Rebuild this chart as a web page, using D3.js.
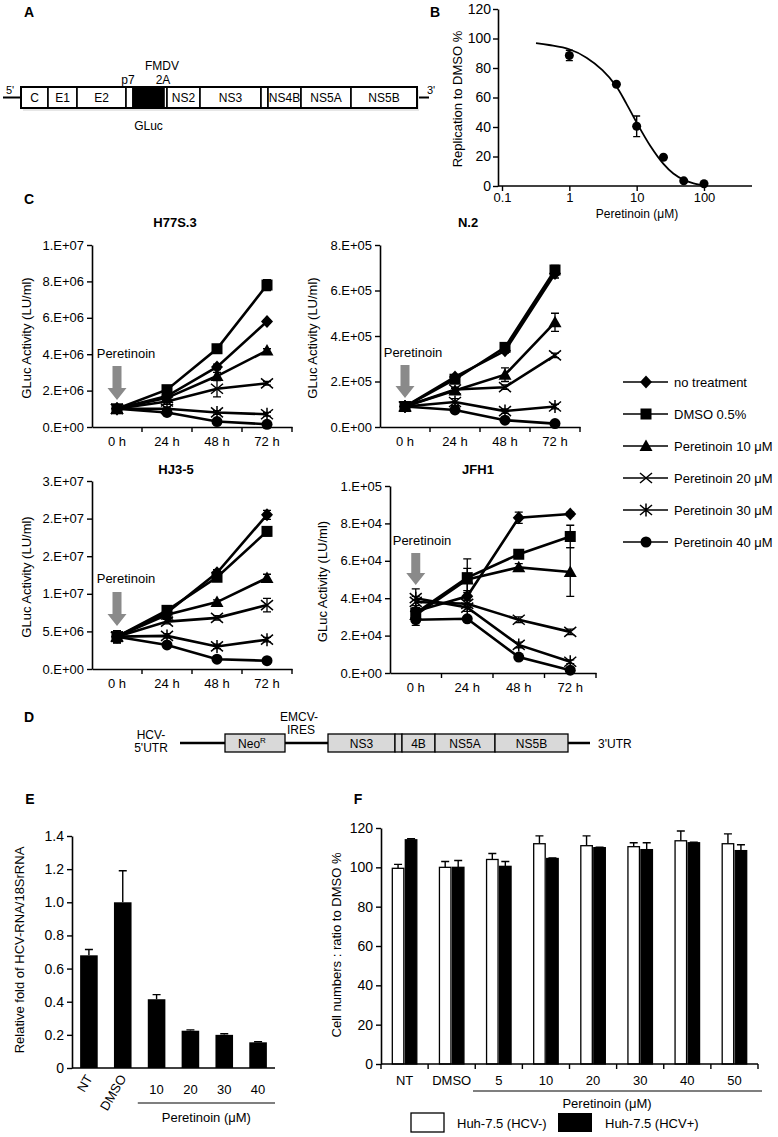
<!DOCTYPE html>
<html><head><meta charset="utf-8">
<script src="https://cdn.jsdelivr.net/npm/d3@7"></script>
<style>
body{margin:0;background:#fff}
text{font-family:"Liberation Sans",Arial,Helvetica,sans-serif;fill:#000}
</style>
</head><body>
<svg id="fig" width="778" height="1137" xmlns="http://www.w3.org/2000/svg"></svg>
<script>
// ---------------- DATA ----------------
// Panel A genome map
const aSegNames = ["C","E1","E2","","GLuc","","NS2","NS3","","NS4B","NS5A","NS5B"];
const aSegUnits = [27,29,49,7,31,3,33,61,7,33,50,66];   // relative segment lengths
// Panel B dose response
const bDose = [1, 5, 10, 25, 50, 100];
const bRepl = [88.5, 69, 40.5, 19.5, 3.5, 1.5];
const bErr  = [3.5, 1, 7, 1, 1, 0.5];
const bFitDose = [0.32, 0.5, 1, 1.8, 3.1, 5, 7, 10, 15.8, 25, 35, 50, 70, 100];
const bFitRepl = [96.9, 95.6, 92.7, 87, 78.5, 67.5, 56, 43, 27.5, 15, 8.5, 4.2, 1.8, 0.4];
const bYTicks = [0, 20, 40, 60, 80, 100, 120];
const bXTicks = [0.1, 1, 10, 100];
const bXTickLabels = ["0.1", "1", "10", "100"];

// Panel C time courses
const cTimes = ["0 h", "24 h", "48 h", "72 h"];
const cSeries = ["no treatment", "DMSO 0.5%", "Peretinoin 10 μM", "Peretinoin 20 μM", "Peretinoin 30 μM", "Peretinoin 40 μM"];

const h77Ticks = [0, 2e6, 4e6, 6e6, 8e6, 1e7];
const h77TickLabels = ["0.E+00", "2.E+06", "4.E+06", "6.E+06", "8.E+06", "1.E+07"];
const h77Values = [
  [1.0e6, 1.7e6, 3.3e6, 5.8e6],
  [1.0e6, 2.05e6, 4.3e6, 7.8e6],
  [1.0e6, 1.6e6, 2.8e6, 4.2e6],
  [1.0e6, 1.4e6, 2.1e6, 2.4e6],
  [1.0e6, 1.0e6, 0.8e6, 0.7e6],
  [1.0e6, 0.8e6, 0.3e6, 0.15e6]
];
const h77Errors = [
  [0.05e6, 0.1e6, 0.15e6, 0.1e6],
  [0.05e6, 0.1e6, 0.1e6, 0.3e6],
  [0.05e6, 0.1e6, 0.2e6, 0.1e6],
  [0.05e6, 0.15e6, 0.45e6, 0.1e6],
  [0.05e6, 0.1e6, 0.1e6, 0.1e6],
  [0.05e6, 0.05e6, 0.05e6, 0.05e6]
];

const n2Ticks = [0, 2e5, 4e5, 6e5, 8e5];
const n2TickLabels = ["0.E+00", "2.E+05", "4.E+05", "6.E+05", "8.E+05"];
const n2Values = [
  [0.9e5, 2.2e5, 3.35e5, 6.75e5],
  [0.9e5, 2.1e5, 3.5e5, 6.9e5],
  [0.9e5, 1.6e5, 2.3e5, 4.6e5],
  [0.9e5, 1.65e5, 1.75e5, 3.15e5],
  [0.9e5, 1.1e5, 0.7e5, 0.9e5],
  [0.9e5, 0.75e5, 0.3e5, 0.15e5]
];
const n2Errors = [
  [0.05e5, 0.1e5, 0.1e5, 0.2e5],
  [0.05e5, 0.1e5, 0.1e5, 0.2e5],
  [0.05e5, 0.1e5, 0.3e5, 0.4e5],
  [0.05e5, 0.1e5, 0.1e5, 0.1e5],
  [0.05e5, 0.15e5, 0.1e5, 0.1e5],
  [0.05e5, 0.05e5, 0.05e5, 0.05e5]
];

const hj3Ticks = [0, 5e6, 1e7, 1.5e7, 2e7, 2.5e7];
const hj3TickLabels = ["0.E+00", "5.E+06", "1.E+07", "2.E+07", "2.E+07", "3.E+07"];
const hj3Values = [
  [4.3e6, 7.5e6, 12.8e6, 20.5e6],
  [4.3e6, 7.8e6, 12.2e6, 18.3e6],
  [4.3e6, 7.2e6, 8.9e6, 12.1e6],
  [4.3e6, 6.3e6, 6.8e6, 8.5e6],
  [4.3e6, 4.4e6, 3.0e6, 3.9e6],
  [4.3e6, 3.2e6, 1.3e6, 1.1e6]
];
const hj3Errors = [
  [0.8e6, 0.3e6, 0.4e6, 0.6e6],
  [0.8e6, 0.3e6, 0.4e6, 0.6e6],
  [0.8e6, 0.3e6, 0.3e6, 0.5e6],
  [0.8e6, 0.3e6, 0.3e6, 0.9e6],
  [0.8e6, 0.3e6, 0.3e6, 0.3e6],
  [0.8e6, 0.2e6, 0.2e6, 0.2e6]
];

const jfhTicks = [0, 2e4, 4e4, 6e4, 8e4, 1e5];
const jfhTickLabels = ["0.E+00", "2.E+04", "4.E+04", "6.E+04", "8.E+04", "1.E+05"];
const jfhValues = [
  [33e3, 41e3, 83e3, 85e3],
  [32e3, 51e3, 63.5e3, 73e3],
  [31e3, 50e3, 56.5e3, 54e3],
  [38e3, 37e3, 28.5e3, 22e3],
  [40e3, 35e3, 15e3, 6e3],
  [28.5e3, 29e3, 8.5e3, 1.5e3]
];
const jfhErrors = [
  [3e3, 2e3, 3e3, 1e3],
  [3e3, 10e3, 1.5e3, 6e3],
  [3e3, 6e3, 2e3, 13e3],
  [3e3, 2e3, 1.5e3, 1.5e3],
  [5e3, 2e3, 1.5e3, 1e3],
  [3e3, 1e3, 1e3, 1e3]
];

// Panel D replicon map
const dSegNames = ["NeoR", "", "NS3", "", "4B", "NS5A", "NS5B"];

// Panel E qPCR
const eCats = ["NT", "DMSO", "10", "20", "30", "40"];
const eVals = [0.68, 1.0, 0.415, 0.225, 0.2, 0.155];
const eErr  = [0.035, 0.19, 0.028, 0.005, 0.007, 0.003];
const eTicks = [0, 0.2, 0.4, 0.6, 0.8, 1.0, 1.2, 1.4];
const eTickLabels = ["0", "0.2", "0.4", "0.6", "0.8", "1.0", "1.2", "1.4"];

// Panel F cell numbers
const fCats = ["NT", "DMSO", "5", "10", "20", "30", "40", "50"];
const fSeries = ["Huh-7.5 (HCV-)", "Huh-7.5 (HCV+)"];
const fNeg = [99.5, 100, 104, 112, 111, 110.5, 113.5, 112];
const fNegErr = [2, 3, 3, 4, 5, 2, 5, 5];
const fPos = [114, 100, 100.5, 104.5, 110, 109, 112.5, 108.5];
const fPosErr = [0.5, 3.5, 2.5, 0.3, 0.3, 3.5, 0.3, 3];
const fTicks = [0, 20, 40, 60, 80, 100, 120];

// ---------------- DRAWING ----------------
const svg = d3.select("#fig");
svg.append("rect").attr("width", 778).attr("height", 1137).attr("fill", "#fff");
const FONT = '"Liberation Sans",Arial,Helvetica,sans-serif';

function styleAxis(sel, fs) {
  sel.attr("font-family", FONT).attr("font-size", fs || 13);
  sel.selectAll("path.domain").attr("stroke", "#000").attr("stroke-width", 1.6);
  sel.selectAll(".tick line").attr("stroke", "#000").attr("stroke-width", 1.4);
  sel.selectAll(".tick text").attr("fill", "#000");
}
function label(t, x, y, opts) {
  opts = opts || {};
  const el = svg.append("text").attr("x", x).attr("y", y).text(t)
    .attr("font-size", opts.size || 13).attr("text-anchor", opts.anchor || "middle")
    .attr("font-weight", opts.bold ? "bold" : "normal");
  if (opts.rotate) el.attr("transform", `rotate(${opts.rotate},${x},${y})`);
  return el;
}
function panelLetter(t, x, y) { label(t, x, y, {size: 14, bold: true}); }

// ---------- Panel A ----------
panelLetter("A", 29, 17);
(function () {
  const total = d3.sum(aSegUnits);
  const gx = d3.scaleLinear().domain([0, total]).range([21, 417]);
  const g = svg.append("g");
  const top = 87, h = 21, mid = top + h / 2;
  g.append("line").attr("x1", 3).attr("x2", 21).attr("y1", mid).attr("y2", mid).attr("stroke", "#000").attr("stroke-width", 2);
  g.append("line").attr("x1", 417).attr("x2", 429).attr("y1", mid).attr("y2", mid).attr("stroke", "#000").attr("stroke-width", 2);
  // shadow
  g.append("rect").attr("x", 23).attr("y", top + 3).attr("width", 396).attr("height", h).attr("fill", "#e6e6e6");
  let acc = 0;
  aSegNames.forEach((n, i) => {
    const x0 = gx(acc), x1 = gx(acc + aSegUnits[i]);
    acc += aSegUnits[i];
    g.append("rect").attr("x", x0).attr("y", top).attr("width", x1 - x0).attr("height", h)
      .attr("fill", n === "GLuc" ? "#000" : "#fff").attr("stroke", "#000").attr("stroke-width", 1.6);
    if (n && n !== "GLuc") label(n, (x0 + x1) / 2, mid + 4.5, {size: 12});
    if (n === "GLuc") label(n, (x0 + x1) / 2, 130, {size: 12});
  });
  g.append("rect").attr("x", 21).attr("y", top).attr("width", 396).attr("height", h).attr("fill", "none").attr("stroke", "#000").attr("stroke-width", 2);
  label("p7", 128, 84, {size: 12});
  label("FMDV", 162, 70, {size: 12});
  label("2A", 163, 84, {size: 12});
  label("5'", 10, 94, {size: 11});
  label("3'", 431, 94, {size: 11});
})();

// ---------- Panel B ----------
panelLetter("B", 435, 17);
(function () {
  const x = d3.scaleLog().domain([0.1, 100]).range([502, 704]);
  const y = d3.scaleLinear().domain([0, 120]).range([186, 9]);
  const g = svg.append("g");
  const ya = g.append("g").attr("transform", "translate(498,0)")
    .call(d3.axisLeft(y).tickValues(bYTicks).tickSize(5).tickSizeOuter(0).tickPadding(2));
  styleAxis(ya, 14);
  const xa = g.append("g").attr("transform", "translate(0,186)")
    .call(d3.axisBottom(x).tickValues(bXTicks).tickFormat((d, i) => bXTickLabels[i]).tickSize(5).tickSizeOuter(0).tickPadding(2));
  styleAxis(xa, 13);
  xa.select("path.domain").attr("d", "M498,0H752");
  const fit = bFitDose.map((d, i) => [d, bFitRepl[i]]);
  g.append("path").attr("d", d3.line().x(d => x(d[0])).y(d => y(d[1])).curve(d3.curveCatmullRom)(fit))
    .attr("fill", "none").attr("stroke", "#000").attr("stroke-width", 1.8);
  bDose.forEach((d, i) => {
    const cx = x(d);
    g.append("path").attr("d", `M${cx},${y(bRepl[i] - bErr[i])}V${y(bRepl[i] + bErr[i])}M${cx - 3.5},${y(bRepl[i] - bErr[i])}h7M${cx - 3.5},${y(bRepl[i] + bErr[i])}h7`)
      .attr("stroke", "#000").attr("stroke-width", 1.4);
    g.append("circle").attr("cx", cx).attr("cy", y(bRepl[i])).attr("r", 4.5).attr("fill", "#000");
  });
  label("Replication to DMSO %", 462, 99, {size: 13, rotate: -90});
  label("Peretinoin (μM)", 637, 218, {size: 12});
})();

// ---------- Panel C ----------
panelLetter("C", 29, 204);
const markerTypes = ["diamond", "square", "triangle", "x", "asterisk", "circle"];
function marker(g, type, cx, cy) {
  switch (type) {
    case "diamond":
      g.append("path").attr("d", `M${cx},${cy - 6.5}L${cx + 6},${cy}L${cx},${cy + 6.5}L${cx - 6},${cy}Z`).attr("fill", "#000"); break;
    case "square":
      g.append("rect").attr("x", cx - 5.5).attr("y", cy - 5.5).attr("width", 11).attr("height", 11).attr("fill", "#000"); break;
    case "triangle":
      g.append("path").attr("d", `M${cx},${cy - 6.5}L${cx + 6.5},${cy + 5}L${cx - 6.5},${cy + 5}Z`).attr("fill", "#000"); break;
    case "x":
      g.append("path").attr("d", `M${cx - 6},${cy - 5}L${cx + 6},${cy + 5}M${cx - 6},${cy + 5}L${cx + 6},${cy - 5}`).attr("stroke", "#000").attr("stroke-width", 1.5).attr("fill", "none"); break;
    case "asterisk":
      g.append("path").attr("d", `M${cx - 6},${cy - 5}L${cx + 6},${cy + 5}M${cx - 6},${cy + 5}L${cx + 6},${cy - 5}M${cx},${cy - 6.5}V${cy + 6.5}`).attr("stroke", "#000").attr("stroke-width", 1.5).attr("fill", "none"); break;
    case "circle":
      g.append("circle").attr("cx", cx).attr("cy", cy).attr("r", 5.5).attr("fill", "#000"); break;
  }
}
function arrow(g, cx, y0, y1) {
  const hh = 12, sw = 4.5, hw = 9.5;
  g.append("path").attr("d", `M${cx - sw},${y0}H${cx + sw}V${y1 - hh}H${cx + hw}L${cx},${y1}L${cx - hw},${y1 - hh}H${cx - sw}Z`)
    .attr("fill", "#8a8a8a");
}
function lineChart(o) {
  const g = svg.append("g");
  const x = d3.scaleBand().domain(cTimes).range(o.xr);
  const y = d3.scaleLinear().domain([0, o.ymax]).range(o.yr);
  const ya = g.append("g").attr("transform", `translate(${o.xr[0]},0)`)
    .call(d3.axisLeft(y).tickValues(o.ticks).tickFormat((d, i) => o.labels[i]).tickSize(5).tickSizeOuter(0).tickPadding(3));
  styleAxis(ya, 13);
  const xa = g.append("g").attr("transform", `translate(0,${o.yr[0]})`)
    .call(d3.axisBottom(x).tickSize(0).tickSizeOuter(0).tickPadding(10));
  styleAxis(xa, 13);
  x.domain().forEach(d => {
    const bx = x(d) + x.bandwidth();
    xa.append("line").attr("x1", bx).attr("x2", bx).attr("y1", 0).attr("y2", 5).attr("stroke", "#000").attr("stroke-width", 1.4);
  });
  const cxs = cTimes.map(t => x(t) + x.bandwidth() / 2);
  const order = [5, 4, 3, 2, 0, 1];
  order.forEach(s => {
    g.append("path").attr("d", d3.line().x((d, i) => cxs[i]).y(d => y(d))(o.values[s]))
      .attr("fill", "none").attr("stroke", "#000").attr("stroke-width", 2.6);
  });
  order.forEach(s => {
    o.values[s].forEach((v, i) => {
      const e = o.errors[s][i];
      const cx = cxs[i];
      g.append("path").attr("d", `M${cx},${y(v - e)}V${y(v + e)}M${cx - 4},${y(v - e)}h8M${cx - 4},${y(v + e)}h8`)
        .attr("stroke", "#000").attr("stroke-width", 1.3);
    });
    o.values[s].forEach((v, i) => marker(g, markerTypes[s], cxs[i], y(v)));
  });
  label(o.title, o.titlePos[0], o.titlePos[1], {size: 13, bold: true});
  label("GLuc Activity (LU/ml)", o.ylabX, (o.yr[0] + o.yr[1]) / 2 + 2, {size: 13, rotate: -90});
  label("Peretinoin", o.textPos[0], o.textPos[1], {size: 13});
  arrow(g, cxs[0], o.arrowY[0], o.arrowY[1]);
}
lineChart({xr: [92, 292], yr: [427, 245], ymax: 1e7, ticks: h77Ticks, labels: h77TickLabels,
  values: h77Values, errors: h77Errors, title: "H77S.3", titlePos: [175, 227], ylabX: 31,
  textPos: [126, 358], arrowY: [366, 400]});
lineChart({xr: [380, 580], yr: [427, 245], ymax: 8e5, ticks: n2Ticks, labels: n2TickLabels,
  values: n2Values, errors: n2Errors, title: "N.2", titlePos: [468, 227], ylabX: 317,
  textPos: [413, 357], arrowY: [365, 398]});
lineChart({xr: [92, 292], yr: [669, 481], ymax: 2.5e7, ticks: hj3Ticks, labels: hj3TickLabels,
  values: hj3Values, errors: hj3Errors, title: "HJ3-5", titlePos: [176, 474], ylabX: 31,
  textPos: [126, 583], arrowY: [592, 626]});
lineChart({xr: [390, 596], yr: [673, 486], ymax: 1e5, ticks: jfhTicks, labels: jfhTickLabels,
  values: jfhValues, errors: jfhErrors, title: "JFH1", titlePos: [478, 474], ylabX: 327,
  textPos: [422, 545], arrowY: [553, 585]});

// Legend
(function () {
  const g = svg.append("g");
  cSeries.forEach((n, i) => {
    const yy = 382 + i * 32;
    g.append("line").attr("x1", 623).attr("x2", 668).attr("y1", yy).attr("y2", yy).attr("stroke", "#000").attr("stroke-width", 1.6);
    marker(g, markerTypes[i], 646, yy);
    label(n, 674, yy + 5, {size: 13, anchor: "start"});
  });
})();

// ---------- Panel D ----------
panelLetter("D", 29, 722);
(function () {
  const g = svg.append("g");
  const mid = 743, h = 18;
  g.append("line").attr("x1", 180).attr("x2", 590).attr("y1", mid).attr("y2", mid).attr("stroke", "#000").attr("stroke-width", 2.6);
  const bounds = [[225, 285], [285, 328], [328, 395], [395, 402], [402, 435], [435, 495], [495, 568]];
  dSegNames.forEach((n, i) => {
    if (i === 1) return;
    const [x0, x1] = bounds[i];
    g.append("rect").attr("x", x0).attr("y", mid - h / 2).attr("width", x1 - x0).attr("height", h)
      .attr("fill", "#d9d9d9").attr("stroke", "#000").attr("stroke-width", 1.3);
    if (n === "NeoR") {
      const t = label("Neo", (x0 + x1) / 2 - 3, mid + 5, {size: 12});
      t.append("tspan").text("R").attr("font-size", 8).attr("dy", -5);
    } else if (n) label(n, (x0 + x1) / 2, mid + 5, {size: 12});
  });
  label("HCV-", 151, 739, {size: 12});
  label("5'UTR", 151, 752, {size: 12});
  label("EMCV-", 299, 721, {size: 12});
  label("IRES", 301, 734, {size: 12});
  label("3'UTR", 598, 748, {size: 12, anchor: "start"});
})();

// ---------- Panel E ----------
panelLetter("E", 30, 804);
(function () {
  const g = svg.append("g");
  const x = d3.scaleBand().domain(eCats).range([72, 275]).paddingInner(0.48).paddingOuter(0.24);
  const y = d3.scaleLinear().domain([0, 1.4]).range([1068, 836]);
  const ya = g.append("g").attr("transform", "translate(72,0)")
    .call(d3.axisLeft(y).tickValues(eTicks).tickFormat((d, i) => eTickLabels[i]).tickSize(5).tickSizeOuter(0).tickPadding(3));
  styleAxis(ya, 14);
  g.append("line").attr("x1", 72).attr("x2", 275).attr("y1", 1068).attr("y2", 1068).attr("stroke", "#000").attr("stroke-width", 1.6);
  eCats.forEach((c, i) => {
    const bx = x(c), bw = x.bandwidth(), cx = bx + bw / 2;
    g.append("path").attr("d", `M${cx},${y(eVals[i])}V${y(eVals[i] + eErr[i])}M${cx - 4},${y(eVals[i] + eErr[i])}h8`)
      .attr("stroke", "#000").attr("stroke-width", 1.4);
    g.append("rect").attr("x", bx).attr("y", y(eVals[i])).attr("width", bw).attr("height", y(0) - y(eVals[i])).attr("fill", "#000");
    if (i < 2) label(c, cx + 4, 1078, {size: 13, anchor: "end", rotate: -60});
    else label(c, cx, 1094, {size: 13});
  });
  const ux0 = x("10") - 10, ux1 = 275;
  g.append("line").attr("x1", ux0).attr("x2", ux1).attr("y1", 1103).attr("y2", 1103).attr("stroke", "#000").attr("stroke-width", 1.2);
  label("Peretinoin (μM)", (ux0 + ux1) / 2, 1122, {size: 13});
  label("Relative fold of HCV-RNA/18SrRNA", 24, 950, {size: 13, rotate: -90});
})();

// ---------- Panel F ----------
panelLetter("F", 358, 804);
(function () {
  const g = svg.append("g");
  const x = d3.scaleBand().domain(fCats).range([381, 758]);
  const y = d3.scaleLinear().domain([0, 120]).range([1064, 828]);
  const ya = g.append("g").attr("transform", "translate(381,0)")
    .call(d3.axisLeft(y).tickValues(fTicks).tickSize(5).tickSizeOuter(0).tickPadding(3));
  styleAxis(ya, 14);
  const bw = 11.5, gap = 1.5;
  fCats.forEach((c, i) => {
    const cx = x(c) + x.bandwidth() / 2;
    [[fNeg, fNegErr, "#fff", cx - gap / 2 - bw], [fPos, fPosErr, "#000", cx + gap / 2]].forEach(([v, e, fill, bx]) => {
      const m = bx + bw / 2;
      g.append("path").attr("d", `M${m},${y(v[i])}V${y(v[i] + e[i])}M${m - 4},${y(v[i] + e[i])}h8`)
        .attr("stroke", "#000").attr("stroke-width", 1.4);
      g.append("rect").attr("x", bx).attr("y", y(v[i])).attr("width", bw).attr("height", y(0) - y(v[i]))
        .attr("fill", fill).attr("stroke", "#000").attr("stroke-width", 1.3);
    });
    label(c, cx, 1085, {size: 13});
  });
  const xa = g.append("g").attr("transform", "translate(0,1064)");
  xa.append("line").attr("x1", 381).attr("x2", 758).attr("stroke", "#000").attr("stroke-width", 1.6);
  [fCats[0]].concat(fCats).forEach((c, i) => {
    const bx = i === 0 ? x(c) : x(c) + x.bandwidth();
    xa.append("line").attr("x1", bx).attr("x2", bx).attr("y1", 0).attr("y2", 5).attr("stroke", "#000").attr("stroke-width", 1.4);
  });
  g.append("line").attr("x1", 473).attr("x2", 762).attr("y1", 1091).attr("y2", 1091).attr("stroke", "#000").attr("stroke-width", 1.2);
  label("Peretinoin (μM)", 607, 1108, {size: 13});
  label("Cell numbers : ratio to DMSO %", 341, 945, {size: 13, rotate: -90});
  // legend
  g.append("rect").attr("x", 411).attr("y", 1113).attr("width", 33).attr("height", 19).attr("fill", "#fff").attr("stroke", "#000").attr("stroke-width", 1.3);
  label(fSeries[0], 457, 1128, {size: 13, anchor: "start"});
  g.append("rect").attr("x", 558).attr("y", 1113).attr("width", 34).attr("height", 19).attr("fill", "#000");
  label(fSeries[1], 605, 1128, {size: 13, anchor: "start"});
})();
</script>
</body></html>
